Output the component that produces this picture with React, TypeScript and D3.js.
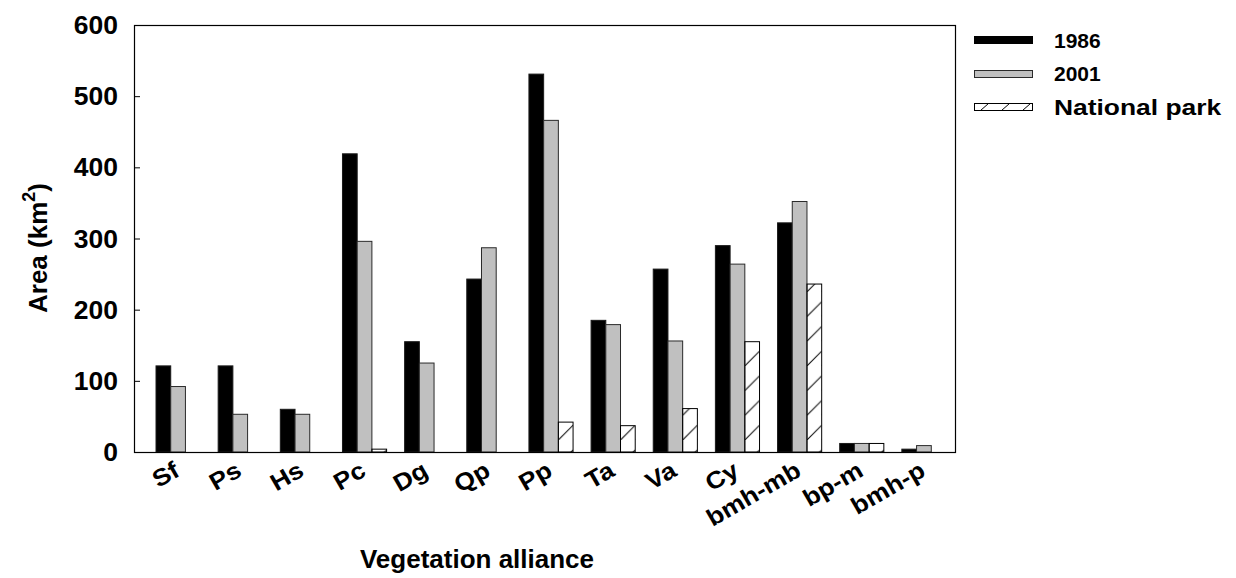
import React from "react";
import * as d3 from "d3";

// Vegetation alliances and their areas (km²)
const categories = ["Sf", "Ps", "Hs", "Pc", "Dg", "Qp", "Pp", "Ta", "Va", "Cy", "bmh-mb", "bp-m", "bmh-p"];
const area1986 = [121, 121, 60, 419, 155, 243, 531, 185, 257, 290, 322, 12, 4];
const area2001 = [92, 53, 53, 296, 125, 287, 466, 179, 156, 264, 352, 12, 9];
const areaPark = [0, 0, 0, 4, 0, 0, 42, 37, 61, 155, 236, 12, 0];
const seriesNames = ["1986", "2001", "National park"];
const yTicks = [0, 100, 200, 300, 400, 500, 600];

const W = 1236;
const H = 578;
const frame = { left: 134, right: 955, top: 25, bottom: 452 };
const FONT = "'Liberation Sans', Arial, Helvetica, sans-serif";

export default function App() {
  const y = d3.scaleLinear().domain([0, 600]).range([frame.bottom, frame.top]);
  const x0 = d3
    .scaleBand<string>()
    .domain(categories)
    .range([147, 955])
    .paddingInner(0.29)
    .paddingOuter(0.145);
  const x1 = d3.scaleBand<string>().domain(seriesNames).range([0, x0.bandwidth()]);
  const bw = x1.bandwidth();

  const seriesValues = [area1986, area2001, areaPark];
  const fills = ["#000000", "#c0c0c0", "#ffffff"];
  const strokes = ["#1a1a1a", "#2a2a2a", "#000000"];

  const bars: { key: string; x: number; y: number; h: number; s: number; i: number }[] = [];
  seriesValues.forEach((vals, s) => {
    vals.forEach((v, i) => {
      if (v <= 0) return;
      const bx = (x0(categories[i]) ?? 0) + (x1(seriesNames[s]) ?? 0);
      bars.push({ key: `${s}-${i}`, x: bx, y: y(v), h: y(0) - y(v), s, i });
    });
  });

  const hatchStep = 24.7;
  const legendY = [47.5, 81, 115];

  return (
    <svg
      width={W}
      height={H}
      style={{ position: "absolute", left: 0, top: 0, background: "#fff" }}
      fontFamily={FONT}
    >
      <defs>
        {bars
          .filter((b) => b.s === 2)
          .map((b) => (
            <pattern
              key={`p${b.key}`}
              id={`hatch-${b.i}`}
              patternUnits="userSpaceOnUse"
              x={b.x}
              y={y(0) - 12 - hatchStep * 4}
              width={bw}
              height={hatchStep}
            >
              <line x1={0} y1={hatchStep} x2={bw} y2={hatchStep - bw} stroke="#000" strokeWidth={1} />
            </pattern>
          ))}
      </defs>

      {/* bars */}
      {bars.map((b) => (
        <rect
          key={b.key}
          x={b.x}
          y={b.y}
          width={bw}
          height={b.h}
          fill={b.s === 2 ? `url(#hatch-${b.i})` : fills[b.s]}
          stroke={strokes[b.s]}
          strokeWidth={1}
        />
      ))}

      {/* frame */}
      <rect
        x={frame.left + 0.5}
        y={frame.top + 0.5}
        width={frame.right - frame.left}
        height={frame.bottom - frame.top}
        fill="none"
        stroke="#000"
        strokeWidth={1.2}
      />

      {/* y ticks and labels */}
      {yTicks.map((t) => (
        <g key={t}>
          {t > 0 && t < 600 && (
            <line x1={frame.left} x2={frame.left + 6} y1={y(t) + 0.5} y2={y(t) + 0.5} stroke="#000" />
          )}
          <text
            x={0}
            y={0}
            dy="0.36em"
            textAnchor="end"
            fontSize={25}
            fontWeight="bold"
            transform={`translate(118 ${y(t)}) scale(1.06 1)`}
          >
            {t}
          </text>
        </g>
      ))}

      {/* x category labels */}
      {categories.map((c) => {
        const cx = (x0(c) ?? 0) + x0.bandwidth() / 2 + 3;
        const cy = 475;
        return (
          <text
            key={c}
            x={0}
            y={0}
            textAnchor="end"
            fontSize={24}
            fontWeight="bold"
            transform={`translate(${cx} ${cy}) rotate(-30) scale(1.1 1)`}
          >
            {c}
          </text>
        );
      })}

      {/* axis titles */}
      <text
        x={47}
        y={248}
        textAnchor="middle"
        fontSize={26}
        fontWeight="bold"
        transform="rotate(-90 47 248)"
      >
        Area (km
        <tspan fontSize={18} dy={-12}>
          2
        </tspan>
        <tspan dy={12}>)</tspan>
      </text>
      <text x={477} y={568} textAnchor="middle" fontSize={26} fontWeight="bold">
        Vegetation alliance
      </text>

      {/* legend */}
      <g>
        <rect x={974.5} y={36.5} width={58} height={7} fill="#000" stroke="#000" />
        <rect x={974.5} y={70.5} width={58} height={7} fill="#c0c0c0" stroke="#2a2a2a" />
        <rect x={974.5} y={103.5} width={58} height={7} fill="#fff" stroke="#000" />
        {[10, 31, 52].map((dx) => (
          <line
            key={dx}
            x1={974.5 + dx - 4}
            y1={110.5}
            x2={974.5 + dx + 4}
            y2={103.5}
            stroke="#000"
          />
        ))}
        {seriesNames.map((n, k) => (
          <text
            key={n}
            x={0}
            y={0}
            fontSize={k === 2 ? 22 : 21}
            fontWeight="bold"
            transform={`translate(1054 ${legendY[k]}) scale(${k === 2 ? 1.2 : 1} 1)`}
          >
            {n}
          </text>
        ))}
      </g>
    </svg>
  );
}
